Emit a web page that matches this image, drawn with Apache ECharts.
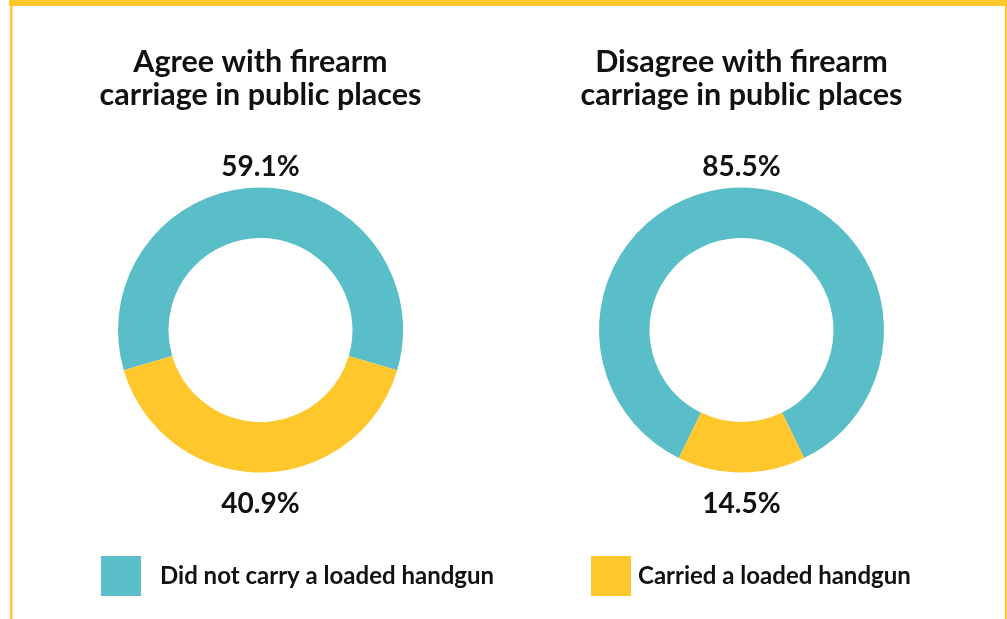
<!DOCTYPE html>
<html>
<head>
<meta charset="utf-8">
<style>
  html, body { margin: 0; padding: 0; background: #ffffff; }
  #chart { width: 1007px; height: 619px; }
</style>
<script src="https://cdn.jsdelivr.net/npm/echarts@6/dist/echarts.min.js"></script>
</head>
<body>
<div id="chart"></div>
<script>
// Share of respondents who carried a loaded handgun, split by attitude
const categories = ['Did not carry a loaded handgun', 'Carried a loaded handgun'];
const groupTitles = ['Agree with firearm\ncarriage in public places', 'Disagree with firearm\ncarriage in public places'];
const agreeValues = [59.1, 40.9];
const disagreeValues = [85.5, 14.5];

const TEAL = '#5ABEC9';
const YELLOW = '#FFC72C';
const FONT = 'Lato, "Noto Sans", sans-serif';

const chart = echarts.init(document.getElementById('chart'), null, { renderer: 'canvas' });

const groups = [
  { title: groupTitles[0], values: agreeValues, cx: 260.5 },
  { title: groupTitles[1], values: disagreeValues, cx: 741.5 }
];
const CY = 330;
const R_IN = 92;
const R_OUT = 142.5;

function pieSeries(g) {
  return {
    type: 'pie',
    center: [g.cx, CY],
    radius: [R_IN, R_OUT],
    // keep the first slice centred on the top of the ring
    startAngle: 90 + g.values[0] * 1.8,
    clockwise: true,
    silent: true,
    label: { show: false },
    labelLine: { show: false },
    emphasis: { disabled: true },
    itemStyle: { borderWidth: 0 },
    data: categories.map((name, i) => ({
      name: name,
      value: g.values[i],
      itemStyle: { color: i === 0 ? TEAL : YELLOW }
    }))
  };
}

const texts = [];
groups.forEach(g => {
  texts.push({
    type: 'text', x: g.cx, y: 79,
    style: {
      text: g.title, fill: '#111111', font: 'bold 30.5px ' + FONT,
      align: 'center', verticalAlign: 'middle', lineHeight: 33
    }
  });
  texts.push({
    type: 'text', x: g.cx, y: 167,
    style: {
      text: g.values[0].toFixed(1) + '%', fill: '#111111', font: 'bold 28px ' + FONT,
      align: 'center', verticalAlign: 'middle'
    }
  });
  texts.push({
    type: 'text', x: g.cx, y: 504,
    style: {
      text: g.values[1].toFixed(1) + '%', fill: '#111111', font: 'bold 28px ' + FONT,
      align: 'center', verticalAlign: 'middle'
    }
  });
});

const frame = [
  { type: 'rect', shape: { x: 9, y: 0, width: 998, height: 6 }, style: { fill: YELLOW } },
  { type: 'rect', shape: { x: 10, y: 0, width: 2.5, height: 619 }, style: { fill: YELLOW } },
  { type: 'rect', shape: { x: 1005, y: 0, width: 2, height: 619 }, style: { fill: YELLOW } }
];

function legendAt(left, name, padLeft) {
  return {
    left: left, top: 556,
    padding: 0,
    orient: 'horizontal',
    itemWidth: 40, itemHeight: 40,
    icon: 'rect',
    selectedMode: false,
    data: [name],
    textStyle: {
      fontFamily: FONT, fontWeight: 'bold', fontSize: 24, color: '#111111',
      padding: [0, 0, 0, padLeft]
    }
  };
}

chart.setOption({
  animation: false,
  backgroundColor: '#ffffff',
  legend: [
    legendAt(101, categories[0], 14),
    legendAt(591, categories[1], 2)
  ],
  series: groups.map(pieSeries),
  graphic: frame.concat(texts)
});
</script>
</body>
</html>
